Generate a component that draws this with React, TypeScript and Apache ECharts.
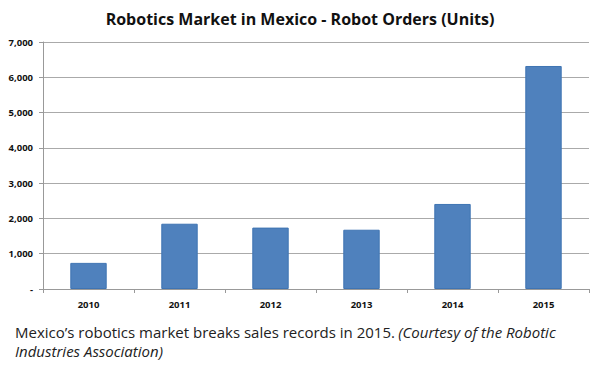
import React, { useEffect, useRef } from "react";
import * as echarts from "echarts";

const categories = ["2010", "2011", "2012", "2013", "2014", "2015"];
const robotOrders = [740, 1850, 1740, 1680, 2410, 6320];
const yTicks = [0, 1000, 2000, 3000, 4000, 5000, 6000, 7000];

const titleText = "Robotics Market in Mexico - Robot Orders (Units)";
const captionMain = "Mexico’s robotics market breaks sales records in 2015.";
const captionItalic1 = "(Courtesy of the Robotic";
const captionItalic2 = "Industries Association)";

export default function App() {
  const ref = useRef<HTMLDivElement>(null);
  useEffect(() => {
    document.body.style.margin = "0";
    if (!ref.current) return;
    const chart = echarts.init(ref.current, undefined, { renderer: "svg" });
    chart.setOption({
      animation: false,
      backgroundColor: "#ffffff",
      title: {
        text: titleText,
        left: "center",
        top: 6,
        textStyle: {
          fontFamily: "Open Sans",
          fontWeight: "bold",
          fontSize: 16,
          color: "#111111",
        },
      },
      grid: { left: 43, right: 11, top: 42, bottom: 86 },
      xAxis: {
        type: "category",
        data: categories,
        axisLine: { lineStyle: { color: "#999999", width: 1 } },
        axisTick: { show: true, alignWithLabel: false, length: 4, lineStyle: { color: "#999999" } },
        axisLabel: {
          margin: 10,
          fontFamily: "Open Sans",
          fontWeight: "bold",
          fontSize: 9.5,
          color: "#111111",
        },
      },
      yAxis: {
        type: "value",
        min: yTicks[0],
        max: yTicks[yTicks.length - 1],
        interval: 1000,
        axisLine: { show: true, lineStyle: { color: "#999999", width: 1 } },
        axisTick: { show: true, length: 4, lineStyle: { color: "#999999" } },
        splitLine: { lineStyle: { color: "#aaaaaa", width: 1 } },
        axisLabel: {
          margin: 10,
          fontFamily: "Open Sans",
          fontWeight: "bold",
          fontSize: 9.5,
          color: "#111111",
          formatter: (v: number) => (v === 0 ? "-" : v.toLocaleString("en-US")),
        },
      },
      series: [
        {
          type: "bar",
          data: robotOrders,
          barWidth: "40%",
          itemStyle: { color: "#4f81bd", borderColor: "#3f74b3", borderWidth: 1 },
        },
      ],
      graphic: [
        {
          type: "text",
          left: 15,
          top: 324,
          style: {
            text:
              "{n|" + captionMain + "} {i|" + captionItalic1 + "}\n{i|" + captionItalic2 + "}",
            rich: {
              n: { fontFamily: "Open Sans", fontSize: 15, fill: "#222222", lineHeight: 19 },
              i: {
                fontFamily: "Open Sans",
                fontSize: 15,
                fontStyle: "italic",
                fill: "#222222",
                lineHeight: 19,
              },
            },
          },
        },
      ],
    });
    return () => chart.dispose();
  }, []);
  return <div ref={ref} style={{ width: 600, height: 375 }} />;
}
